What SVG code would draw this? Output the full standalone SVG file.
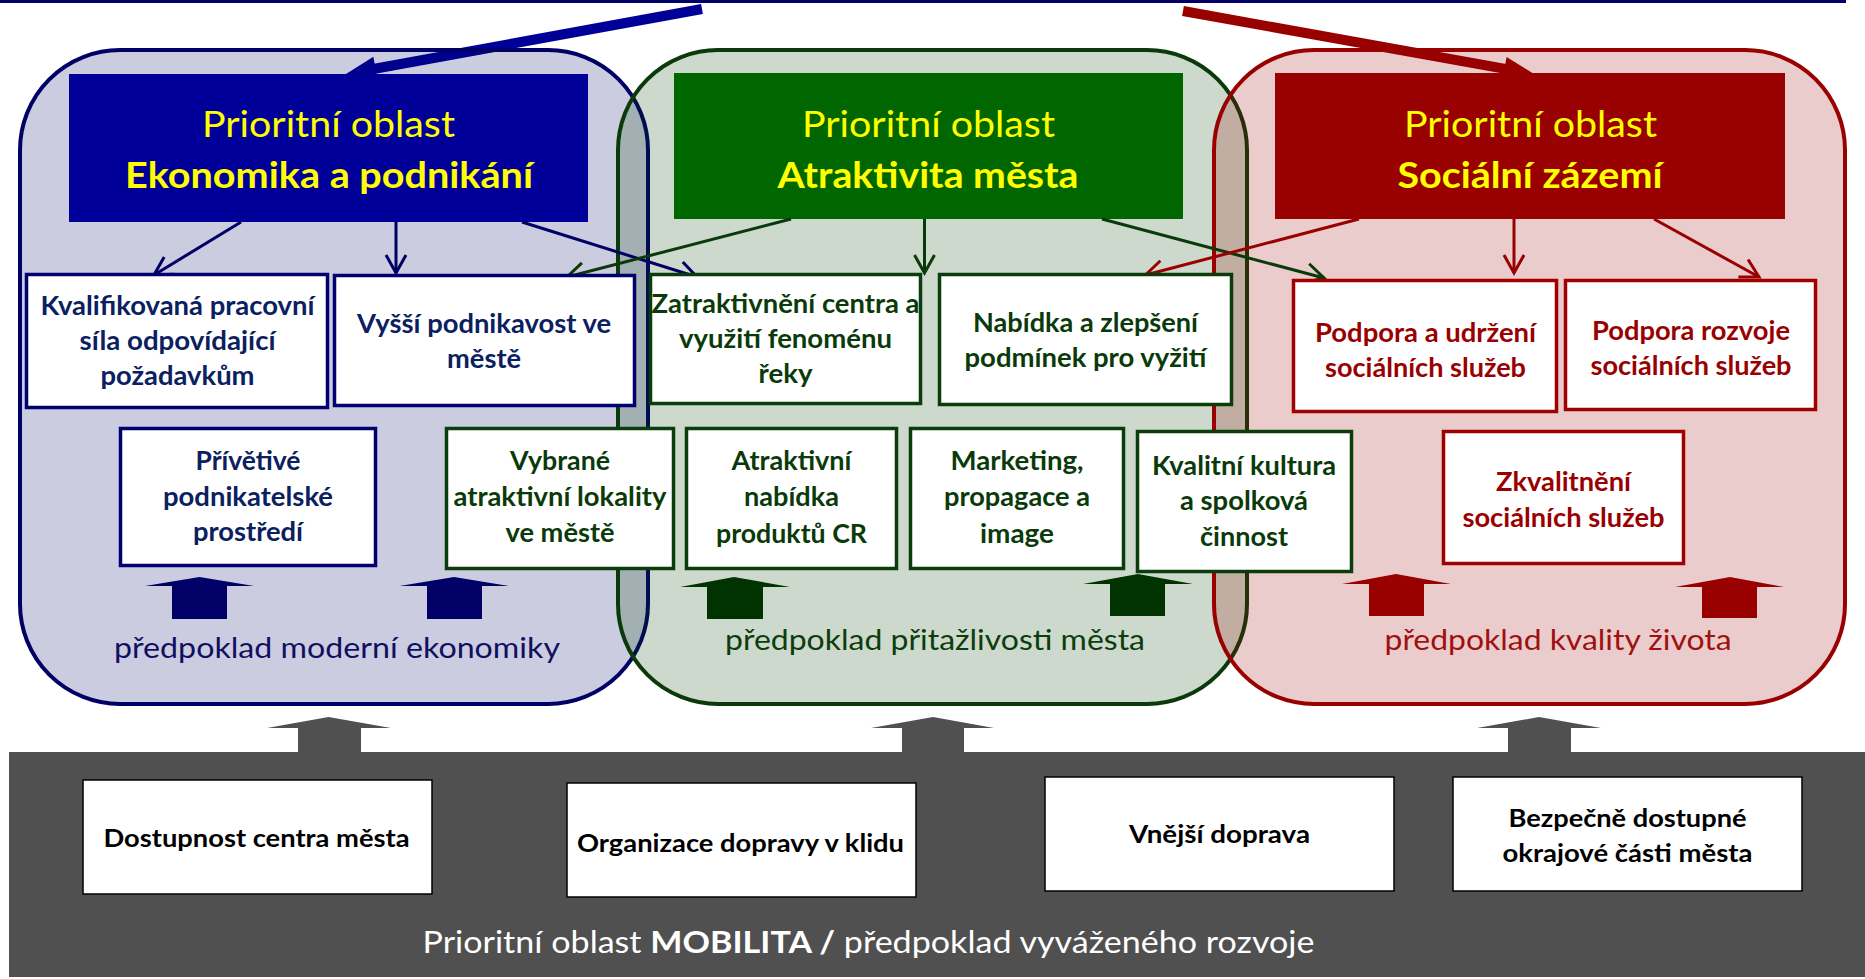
<svg xmlns="http://www.w3.org/2000/svg" width="1865" height="979" viewBox="0 0 1865 979">
<defs>
<style>
text{font-family:Lato,"Liberation Sans",sans-serif;text-anchor:middle}
.hd{font-size:37px;fill:#ffff00}
.b{font-weight:bold}
.bt{font-size:26px;font-weight:bold}
.nv{fill:#0a2060}
.gt{fill:#0a3a0a}
.rt{fill:#990000}
.lbl{font-size:28px}
.mb{font-size:24px;font-weight:bold;fill:#000}
.mob{font-size:31px;fill:#fff}
.pb{fill:#000066;fill-opacity:.2;stroke:#000066;stroke-width:4}
.pg{fill:#004000;fill-opacity:.2;stroke:#0a3a0a;stroke-width:4}
.pr{fill:#990000;fill-opacity:.2;stroke:#990000;stroke-width:4}
.wb{fill:#fff;stroke:#00006e;stroke-width:3.5}
.wg{fill:#fff;stroke:#0a3d0a;stroke-width:3.5}
.wr{fill:#fff;stroke:#a00000;stroke-width:3.5}
.wm{fill:#fff;stroke:#000;stroke-width:1.5}
.cb{fill:none;stroke:#000066;stroke-width:3;marker-end:url(#vb)}
.cg{fill:none;stroke:#0a3a0a;stroke-width:3;marker-end:url(#vg)}
.cr{fill:none;stroke:#990000;stroke-width:3;marker-end:url(#vr)}
</style>
<marker id="vb" markerUnits="userSpaceOnUse" markerWidth="24" markerHeight="24" refX="18" refY="10" orient="auto" overflow="visible"><path d="M0,0 L18,10 L0,20" fill="none" stroke="#000066" stroke-width="3"/></marker>
<marker id="vg" markerUnits="userSpaceOnUse" markerWidth="24" markerHeight="24" refX="18" refY="10" orient="auto" overflow="visible"><path d="M0,0 L18,10 L0,20" fill="none" stroke="#0a3a0a" stroke-width="3"/></marker>
<marker id="vr" markerUnits="userSpaceOnUse" markerWidth="24" markerHeight="24" refX="18" refY="10" orient="auto" overflow="visible"><path d="M0,0 L18,10 L0,20" fill="none" stroke="#990000" stroke-width="3"/></marker>
<marker id="bigb" markerUnits="userSpaceOnUse" markerWidth="32" markerHeight="26" refX="5" refY="12" orient="auto" overflow="visible"><path d="M0,0 L30,12 L0,24 z" fill="#000099"/></marker>
<marker id="bigr" markerUnits="userSpaceOnUse" markerWidth="32" markerHeight="26" refX="5" refY="12" orient="auto" overflow="visible"><path d="M0,0 L30,12 L0,24 z" fill="#990000"/></marker>
</defs>
<rect x="0" y="0" width="1865" height="979" fill="#fff"/>
<rect x="0" y="0" width="1846" height="3" fill="#000066"/>

<!-- top arrows -->
<g id="top-arrows">
<path d="M702,9 L370.6,69.5" stroke="#000099" stroke-width="10" fill="none" marker-end="url(#bigb)"/>
<path d="M1183,11 L1509.4,69.6" stroke="#990000" stroke-width="10" fill="none" marker-end="url(#bigr)"/>
</g>

<!-- panels -->
<g id="panel-ekonomika"><rect class="pb" x="20" y="50" width="628" height="654" rx="100"/></g>
<g id="panel-atraktivita"><rect class="pg" x="618" y="50" width="629" height="654" rx="100"/></g>
<g id="panel-socialni"><rect class="pr" x="1214" y="50" width="631" height="654" rx="100"/></g>

<!-- mobility area -->
<g id="mobilita">
<rect x="9" y="752" width="1856" height="225" fill="#505050"/>
<text class="mob" x="868.5" y="953" textLength="892" lengthAdjust="spacingAndGlyphs">Prioritní oblast <tspan class="b">MOBILITA /</tspan> předpoklad vyváženého rozvoje</text>
</g>

<!-- headers -->
<g id="hdr-ekonomika">
<rect x="69" y="74" width="519" height="148" fill="#000099"/>
<text class="hd" x="328.5" y="137" textLength="253" lengthAdjust="spacingAndGlyphs">Prioritní oblast</text>
<text class="hd b" x="329" y="188" textLength="408" lengthAdjust="spacingAndGlyphs">Ekonomika a podnikání</text>
</g>
<g id="hdr-atraktivita">
<rect x="674" y="73" width="509" height="146" fill="#006600"/>
<text class="hd" x="928.5" y="137" textLength="253" lengthAdjust="spacingAndGlyphs">Prioritní oblast</text>
<text class="hd b" x="928" y="188" textLength="301" lengthAdjust="spacingAndGlyphs">Atraktivita města</text>
</g>
<g id="hdr-socialni">
<rect x="1275" y="73" width="510" height="146" fill="#990000"/>
<text class="hd" x="1530.5" y="137" textLength="253" lengthAdjust="spacingAndGlyphs">Prioritní oblast</text>
<text class="hd b" x="1530" y="188" textLength="265" lengthAdjust="spacingAndGlyphs">Sociální zázemí</text>
</g>

<!-- connectors -->
<g id="connectors">
<path class="cb" d="M241,222 L154,275"/>
<path class="cb" d="M396,222 L396,273"/>
<path class="cb" d="M522,222 L697,277"/>
<path class="cg" d="M791,219 L567,277"/>
<path class="cg" d="M924.5,219 L924.5,273"/>
<path class="cg" d="M1102,219 L1324,278"/>
<path class="cr" d="M1359,219 L1145.5,275"/>
<path class="cr" d="M1514,219 L1514,273"/>
<path class="cr" d="M1654,219 L1759,277"/>
<g id="block-arrows">
<polygon fill="#000066" points="199.5,577 254,586 227,586 227,619 172,619 172,586 145,586"/>
<polygon fill="#000066" points="454,577 509,586 482,586 482,619 427,619 427,586 399.5,586"/>
<polygon fill="#003300" points="734,577 790,587 763,587 763,619 707,619 707,587 680,587"/>
<polygon fill="#003300" points="1138,574 1193,584 1165,584 1165,616 1110,616 1110,584 1083,584"/>
<polygon fill="#990000" points="1396,574 1451,584 1424,584 1424,616 1369,616 1369,584 1342,584"/>
<polygon fill="#990000" points="1730,577 1784,587 1757,587 1757,618 1702,618 1702,587 1675,587"/>
<polygon fill="#505050" points="328.5,717 391,728 361,728 361,753 298,753 298,728 267,728"/>
<polygon fill="#505050" points="933,717 994,728 964,728 964,753 902,753 902,728 871,728"/>
<polygon fill="#505050" points="1539,717 1601,728 1571,728 1571,753 1508,753 1508,728 1477,728"/>
</g>
</g>

<!-- panel labels -->
<g id="lbl-ekonomika"><text class="lbl" x="337" y="658" fill="#101060" textLength="446" lengthAdjust="spacingAndGlyphs">předpoklad moderní ekonomiky</text></g>
<g id="lbl-atraktivita"><text class="lbl" x="935" y="650" fill="#0d3d0d" textLength="420" lengthAdjust="spacingAndGlyphs">předpoklad přitažlivosti města</text></g>
<g id="lbl-socialni"><text class="lbl" x="1558" y="650" fill="#a01010" textLength="347" lengthAdjust="spacingAndGlyphs">předpoklad kvality života</text></g>

<!-- blue boxes -->
<g id="kvalifikovana">
<rect class="wb" x="26.5" y="274.5" width="301" height="133"/>
<text class="bt nv" x="177.5" y="315" textLength="274" lengthAdjust="spacingAndGlyphs">Kvalifikovaná pracovní</text>
<text class="bt nv" x="177.5" y="350" textLength="196" lengthAdjust="spacingAndGlyphs">síla odpovídající</text>
<text class="bt nv" x="177.5" y="385" textLength="154" lengthAdjust="spacingAndGlyphs">požadavkům</text>
</g>
<g id="podnikavost">
<rect class="wb" x="334.5" y="275.5" width="300" height="130"/>
<text class="bt nv" x="484" y="333" textLength="254" lengthAdjust="spacingAndGlyphs">Vyšší podnikavost ve</text>
<text class="bt nv" x="484" y="368" textLength="74" lengthAdjust="spacingAndGlyphs">městě</text>
</g>
<g id="privetive">
<rect class="wb" x="120.5" y="428.5" width="255" height="137"/>
<text class="bt nv" x="248" y="470" textLength="105" lengthAdjust="spacingAndGlyphs">Přívětivé</text>
<text class="bt nv" x="248" y="506" textLength="170" lengthAdjust="spacingAndGlyphs">podnikatelské</text>
<text class="bt nv" x="248" y="541" textLength="110" lengthAdjust="spacingAndGlyphs">prostředí</text>
</g>

<!-- green boxes -->
<g id="zatraktivneni">
<rect class="wg" x="650.5" y="274.5" width="270" height="129"/>
<text class="bt gt" x="785.5" y="313" textLength="268" lengthAdjust="spacingAndGlyphs">Zatraktivnění centra a</text>
<text class="bt gt" x="785.5" y="348" textLength="213" lengthAdjust="spacingAndGlyphs">využití fenoménu</text>
<text class="bt gt" x="785.5" y="383" textLength="54" lengthAdjust="spacingAndGlyphs">řeky</text>
</g>
<g id="nabidka">
<rect class="wg" x="939.5" y="274.5" width="292" height="130"/>
<text class="bt gt" x="1085.5" y="332" textLength="225" lengthAdjust="spacingAndGlyphs">Nabídka a zlepšení</text>
<text class="bt gt" x="1085.5" y="367" textLength="242" lengthAdjust="spacingAndGlyphs">podmínek pro vyžití</text>
</g>
<g id="vybrane">
<rect class="wg" x="446.5" y="428.5" width="227" height="140"/>
<text class="bt gt" x="560" y="470" textLength="100" lengthAdjust="spacingAndGlyphs">Vybrané</text>
<text class="bt gt" x="560" y="506" textLength="213" lengthAdjust="spacingAndGlyphs">atraktivní lokality</text>
<text class="bt gt" x="560" y="542" textLength="109" lengthAdjust="spacingAndGlyphs">ve městě</text>
</g>
<g id="produkty">
<rect class="wg" x="686.5" y="428.5" width="210" height="140"/>
<text class="bt gt" x="791.5" y="470" textLength="120" lengthAdjust="spacingAndGlyphs">Atraktivní</text>
<text class="bt gt" x="791.5" y="506" textLength="95" lengthAdjust="spacingAndGlyphs">nabídka</text>
<text class="bt gt" x="791.5" y="543" textLength="151" lengthAdjust="spacingAndGlyphs">produktů CR</text>
</g>
<g id="marketing">
<rect class="wg" x="910.5" y="428.5" width="213" height="140"/>
<text class="bt gt" x="1017" y="470" textLength="133" lengthAdjust="spacingAndGlyphs">Marketing,</text>
<text class="bt gt" x="1017" y="506" textLength="146" lengthAdjust="spacingAndGlyphs">propagace a</text>
<text class="bt gt" x="1017" y="543" textLength="74" lengthAdjust="spacingAndGlyphs">image</text>
</g>
<g id="kultura">
<rect class="wg" x="1137.5" y="431.5" width="214" height="140"/>
<text class="bt gt" x="1244" y="475" textLength="184" lengthAdjust="spacingAndGlyphs">Kvalitní kultura</text>
<text class="bt gt" x="1244" y="510" textLength="128" lengthAdjust="spacingAndGlyphs">a spolková</text>
<text class="bt gt" x="1244" y="546" textLength="88" lengthAdjust="spacingAndGlyphs">činnost</text>
</g>

<!-- red boxes -->
<g id="udrzeni">
<rect class="wr" x="1293.5" y="280.5" width="263" height="131"/>
<text class="bt rt" x="1425.5" y="342" textLength="221" lengthAdjust="spacingAndGlyphs">Podpora a udržení</text>
<text class="bt rt" x="1425.5" y="377" textLength="201" lengthAdjust="spacingAndGlyphs">sociálních služeb</text>
</g>
<g id="rozvoj">
<rect class="wr" x="1565.5" y="280.5" width="250" height="129"/>
<text class="bt rt" x="1691" y="340" textLength="198" lengthAdjust="spacingAndGlyphs">Podpora rozvoje</text>
<text class="bt rt" x="1691" y="375" textLength="201" lengthAdjust="spacingAndGlyphs">sociálních služeb</text>
</g>
<g id="zkvalitneni">
<rect class="wr" x="1443.5" y="431.5" width="240" height="132"/>
<text class="bt rt" x="1563.5" y="491" textLength="135" lengthAdjust="spacingAndGlyphs">Zkvalitnění</text>
<text class="bt rt" x="1563.5" y="527" textLength="202" lengthAdjust="spacingAndGlyphs">sociálních služeb</text>
</g>

<!-- mobility boxes -->
<g id="dostupnost">
<rect class="wm" x="83" y="780" width="349" height="114"/>
<text class="mb" x="256.5" y="847" textLength="306" lengthAdjust="spacingAndGlyphs">Dostupnost centra města</text>
</g>
<g id="organizace">
<rect class="wm" x="567" y="783" width="349" height="114"/>
<text class="mb" x="740.5" y="852" textLength="327" lengthAdjust="spacingAndGlyphs">Organizace dopravy v klidu</text>
</g>
<g id="vnejsi">
<rect class="wm" x="1045" y="777" width="349" height="114"/>
<text class="mb" x="1219.5" y="843" textLength="181" lengthAdjust="spacingAndGlyphs">Vnější doprava</text>
</g>
<g id="bezpecne">
<rect class="wm" x="1453" y="777" width="349" height="114"/>
<text class="mb" x="1627.5" y="827" textLength="238" lengthAdjust="spacingAndGlyphs">Bezpečně dostupné</text>
<text class="mb" x="1627.5" y="862" textLength="250" lengthAdjust="spacingAndGlyphs">okrajové části města</text>
</g>
</svg>
